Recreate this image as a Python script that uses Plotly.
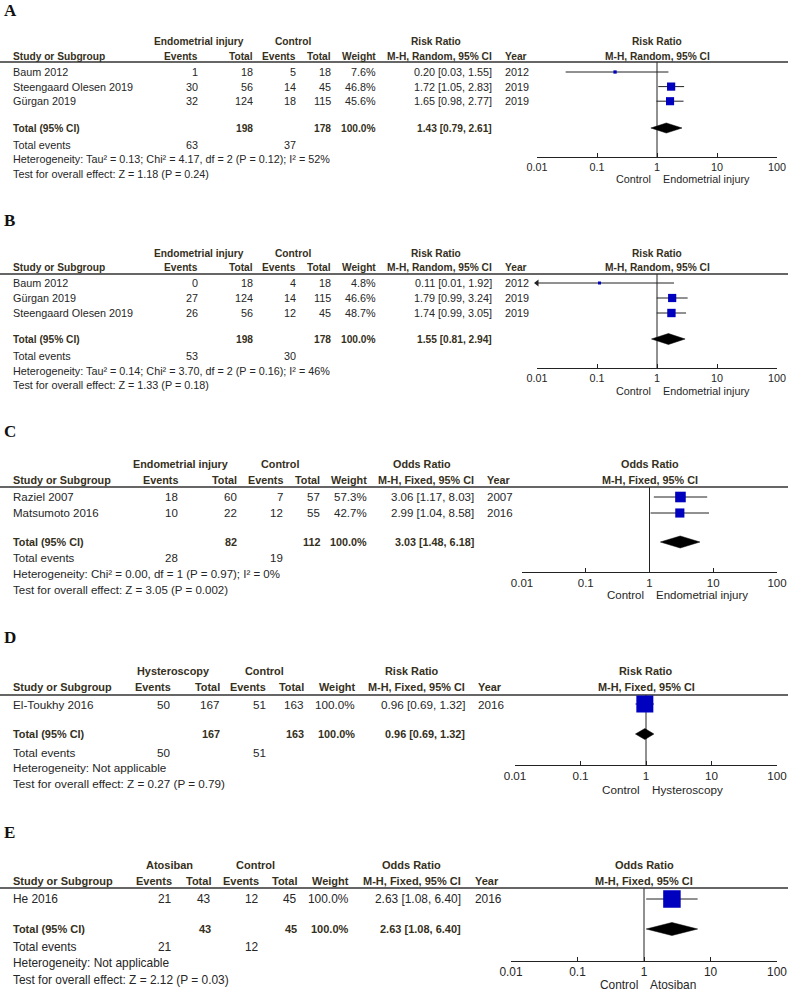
import math
import plotly.graph_objects as go

W, H = 788, 991

# ---------------- DATA ----------------
# Panel A
A_study = ["Baum 2012", "Steengaard Olesen 2019", "Gürgan 2019"]
A_ev1 = [1, 30, 32]
A_tot1 = [18, 56, 124]
A_ev2 = [5, 14, 18]
A_tot2 = [18, 45, 115]
A_weight = [7.6, 46.8, 45.6]
A_est = [0.20, 1.72, 1.65]
A_lo = [0.03, 1.05, 0.98]
A_hi = [1.55, 2.83, 2.77]
A_year = [2012, 2019, 2019]
A_sum_n = [198, 178]
A_sum_wt = 100.0
A_sum_ev = [63, 37]
A_sum_est = [1.43, 0.79, 2.61]
A_het = "Heterogeneity: Tau² = 0.13; Chi² = 4.17, df = 2 (P = 0.12); I² = 52%"
A_test = "Test for overall effect: Z = 1.18 (P = 0.24)"
A_labels = ["Endometrial injury", "Control", "Risk Ratio", "M-H, Random, 95% CI"]

# Panel B
B_study = ["Baum 2012", "Gürgan 2019", "Steengaard Olesen 2019"]
B_ev1 = [0, 27, 26]
B_tot1 = [18, 124, 56]
B_ev2 = [4, 14, 12]
B_tot2 = [18, 115, 45]
B_weight = [4.8, 46.6, 48.7]
B_est = [0.11, 1.79, 1.74]
B_lo = [0.01, 0.99, 0.99]
B_hi = [1.92, 3.24, 3.05]
B_year = [2012, 2019, 2019]
B_sum_n = [198, 178]
B_sum_wt = 100.0
B_sum_ev = [53, 30]
B_sum_est = [1.55, 0.81, 2.94]
B_het = "Heterogeneity: Tau² = 0.14; Chi² = 3.70, df = 2 (P = 0.16); I² = 46%"
B_test = "Test for overall effect: Z = 1.33 (P = 0.18)"
B_labels = ["Endometrial injury", "Control", "Risk Ratio", "M-H, Random, 95% CI"]

# Panel C
C_study = ["Raziel 2007", "Matsumoto 2016"]
C_ev1 = [18, 10]
C_tot1 = [60, 22]
C_ev2 = [7, 12]
C_tot2 = [57, 55]
C_weight = [57.3, 42.7]
C_est = [3.06, 2.99]
C_lo = [1.17, 1.04]
C_hi = [8.03, 8.58]
C_year = [2007, 2016]
C_sum_n = [82, 112]
C_sum_wt = 100.0
C_sum_ev = [28, 19]
C_sum_est = [3.03, 1.48, 6.18]
C_het = "Heterogeneity: Chi² = 0.00, df = 1 (P = 0.97); I² = 0%"
C_test = "Test for overall effect: Z = 3.05 (P = 0.002)"
C_labels = ["Endometrial injury", "Control", "Odds Ratio", "M-H, Fixed, 95% CI"]

# Panel D
D_study = ["El-Toukhy 2016"]
D_ev1 = [50]
D_tot1 = [167]
D_ev2 = [51]
D_tot2 = [163]
D_weight = [100.0]
D_est = [0.96]
D_lo = [0.69]
D_hi = [1.32]
D_year = [2016]
D_sum_n = [167, 163]
D_sum_wt = 100.0
D_sum_ev = [50, 51]
D_sum_est = [0.96, 0.69, 1.32]
D_het = "Heterogeneity: Not applicable"
D_test = "Test for overall effect: Z = 0.27 (P = 0.79)"
D_labels = ["Hysteroscopy", "Control", "Risk Ratio", "M-H, Fixed, 95% CI"]

# Panel E
E_study = ["He 2016"]
E_ev1 = [21]
E_tot1 = [43]
E_ev2 = [12]
E_tot2 = [45]
E_weight = [100.0]
E_est = [2.63]
E_lo = [1.08]
E_hi = [6.40]
E_year = [2016]
E_sum_n = [43, 45]
E_sum_wt = 100.0
E_sum_ev = [21, 12]
E_sum_est = [2.63, 1.08, 6.40]
E_het = "Heterogeneity: Not applicable"
E_test = "Test for overall effect: Z = 2.12 (P = 0.03)"
E_labels = ["Atosiban", "Control", "Odds Ratio", "M-H, Fixed, 95% CI"]

TICK_VALS = [0.01, 0.1, 1, 10, 100]
TICK_TEXT = ["0.01", "0.1", "1", "10", "100"]

# ---------------- STYLE (pixel layout) ----------------
STYLE = {
    "A": dict(letter=10, h1=42, h2=56, line=62, row0=72, rowh=14.6, total=128, tev=145, het=159, test=174,
              axis=157, side=179, x0=537, x1=777, fs=10.8, fsb=10.2, sqk=1.2, dh=5,
              name=12, ev1=199, tot1=254, ev2=297, tot2=332, wt=377, ci=493, year=504, g1=199, g2=293, eff=436),
    "B": dict(letter=220, h1=253, h2=267, line=274, row0=283, rowh=15, total=339, tev=356, het=371, test=385,
              axis=368, side=391, x0=537, x1=777, fs=10.8, fsb=10.2, sqk=1.2, dh=5.5,
              name=12, ev1=199, tot1=254, ev2=297, tot2=332, wt=377, ci=493, year=504, g1=199, g2=293, eff=436),
    "C": dict(letter=432, h1=464, h2=480, line=487, row0=497, rowh=16, total=542, tev=558, het=574, test=590,
              axis=572, side=595, x0=522, x1=777, fs=11.5, fsb=10.8, sqk=1.4, dh=6,
              name=12, ev1=179, tot1=238, ev2=284, tot2=321, wt=368, ci=475, year=486, g1=180, g2=280, eff=422),
    "D": dict(letter=637, h1=671, h2=687, line=695, row0=704, rowh=16, total=734, tev=752, het=767, test=783,
              axis=765, side=789, x0=515, x1=777, fs=11.7, fsb=10.9, sqk=1.7, dh=5.5,
              name=12, ev1=172, tot1=221, ev2=267, tot2=305, wt=356, ci=466, year=477, g1=173, g2=264, eff=412),
    "E": dict(letter=832, h1=865, h2=881, line=888, row0=899, rowh=16, total=929, tev=947, het=963, test=980,
              axis=961, side=985, x0=511, x1=777, fs=11.9, fsb=11.0, sqk=1.75, dh=6.5,
              name=12, ev1=173, tot1=212, ev2=260, tot2=298, wt=350, ci=462, year=474, g1=169, g2=256, eff=411),
}

panels = [
    ("A", A_study, A_ev1, A_tot1, A_ev2, A_tot2, A_weight, A_est, A_lo, A_hi, A_year, A_sum_n, A_sum_wt, A_sum_ev, A_sum_est, A_het, A_test, A_labels),
    ("B", B_study, B_ev1, B_tot1, B_ev2, B_tot2, B_weight, B_est, B_lo, B_hi, B_year, B_sum_n, B_sum_wt, B_sum_ev, B_sum_est, B_het, B_test, B_labels),
    ("C", C_study, C_ev1, C_tot1, C_ev2, C_tot2, C_weight, C_est, C_lo, C_hi, C_year, C_sum_n, C_sum_wt, C_sum_ev, C_sum_est, C_het, C_test, C_labels),
    ("D", D_study, D_ev1, D_tot1, D_ev2, D_tot2, D_weight, D_est, D_lo, D_hi, D_year, D_sum_n, D_sum_wt, D_sum_ev, D_sum_est, D_het, D_test, D_labels),
    ("E", E_study, E_ev1, E_tot1, E_ev2, E_tot2, E_weight, E_est, E_lo, E_hi, E_year, E_sum_n, E_sum_wt, E_sum_ev, E_sum_est, E_het, E_test, E_labels),
]

FONT = "Liberation Sans, Arial, sans-serif"
TXT = "#262626"
BOLD_TXT = "#35301c"
SQ = "#0000BF"

fig = go.Figure()
annotations = []
shapes = []
axes = {}


def ann(text, x, y, anchor, size, bold=False, xref="paper", xshift=0, family=FONT, color=None):
    if color is None:
        color = BOLD_TXT if bold else TXT
    annotations.append(dict(
        text=("<b>%s</b>" % text) if bold else text,
        x=(x / W) if xref == "paper" else x, y=1 - y / H,
        xref=xref, yref="paper", xanchor=anchor, yanchor="middle",
        showarrow=False, xshift=xshift, borderpad=0,
        font=dict(family=family, size=size, color=color)))


def ci_text(e, l, h):
    return "%.2f [%.2f, %.2f]" % (e, l, h)


for i, (key, study, ev1, tot1, ev2, tot2, wt, est, lo, hi, year, sum_n, sum_wt, sum_ev, sum_est, het, test, labels) in enumerate(panels, start=1):
    s = STYLE[key]
    xa = "x" if i == 1 else "x%d" % i
    ya = "y" if i == 1 else "y%d" % i
    axes["xaxis" if i == 1 else "xaxis%d" % i] = dict(
        domain=[s["x0"] / W, s["x1"] / W], type="log", range=[-2, 2], anchor=ya,
        tickmode="array", tickvals=TICK_VALS, ticktext=TICK_TEXT, automargin=False,
        showline=True, linecolor="#222", linewidth=1, ticks="inside", ticklen=4,
        tickcolor="#222", tickwidth=1, showgrid=False, zeroline=False,
        tickfont=dict(family=FONT, size=s["fs"], color=TXT), fixedrange=True)
    axes["yaxis" if i == 1 else "yaxis%d" % i] = dict(
        domain=[1 - s["axis"] / H, 1 - s["line"] / H], range=[s["axis"], s["line"]],
        visible=False, anchor=xa, fixedrange=True, automargin=False)

    n = len(study)
    rows = [s["row0"] + k * s["rowh"] for k in range(n)]

    # CI lines
    for k in range(n):
        fig.add_trace(go.Scatter(x=[max(lo[k], 0.01), min(hi[k], 100)], y=[rows[k], rows[k]], mode="lines",
                                 line=dict(color="#222", width=1), xaxis=xa, yaxis=ya,
                                 showlegend=False, hoverinfo="skip", cliponaxis=False))
        if lo[k] <= 0.01:
            fig.add_trace(go.Scatter(x=[0.01], y=[rows[k]], mode="markers",
                                     marker=dict(symbol="triangle-left", size=6, color="#222", opacity=1),
                                     xaxis=xa, yaxis=ya, showlegend=False, hoverinfo="skip", cliponaxis=False))
    # squares
    fig.add_trace(go.Scatter(x=est, y=rows, mode="markers",
                             marker=dict(symbol="square", color=SQ, opacity=1,
                                         size=[max(3, s["sqk"] * math.sqrt(w)) for w in wt],
                                         line=dict(width=0)),
                             xaxis=xa, yaxis=ya, showlegend=False, cliponaxis=False))
    # diamond
    t = s["total"]
    d = s["dh"]
    fig.add_trace(go.Scatter(x=[sum_est[1], sum_est[0], sum_est[2], sum_est[0], sum_est[1]],
                             y=[t, t - d, t, t + d, t], mode="lines", fill="toself",
                             fillcolor="#000", line=dict(color="#000", width=0.5),
                             xaxis=xa, yaxis=ya, showlegend=False, hoverinfo="skip", cliponaxis=False))
    # vertical line at 1
    shapes.append(dict(type="line", xref=xa, yref="%s domain" % ya, x0=1, x1=1, y0=0, y1=1,
                       line=dict(color="#222", width=1), layer="below"))
    # header underline
    shapes.append(dict(type="line", xref="paper", yref="paper", x0=0, x1=1,
                       y0=1 - s["line"] / H, y1=1 - s["line"] / H,
                       line=dict(color="#333", width=1.5), layer="below"))

    fs, fsb = s["fs"], s["fsb"]
    # panel letter
    ann(key, 3, s["letter"], "left", 17, bold=True, family="Liberation Serif, Times New Roman, serif", color="#111")
    # headers
    ann(labels[0], s["g1"], s["h1"], "center", fsb, True)
    ann(labels[1], s["g2"], s["h1"], "center", fsb, True)
    ann(labels[2], s["eff"], s["h1"], "center", fsb, True)
    ann("Study or Subgroup", s["name"], s["h2"], "left", fsb, True)
    ann("Events", s["ev1"], s["h2"], "right", fsb, True)
    ann("Total", s["tot1"], s["h2"], "right", fsb, True)
    ann("Events", s["ev2"], s["h2"], "right", fsb, True)
    ann("Total", s["tot2"], s["h2"], "right", fsb, True)
    ann("Weight", s["wt"], s["h2"], "right", fsb, True)
    ann(labels[3], s["ci"], s["h2"], "right", fsb, True)
    ann("Year", s["year"], s["h2"], "left", fsb, True)
    # forest header (annotation x on a log axis is given in log10 units: 0 -> ratio 1)
    ann(labels[2], 0, s["h1"], "center", fsb, True, xref=xa)
    ann(labels[3], 0, s["h2"], "center", fsb, True, xref=xa)
    # study rows
    for k in range(n):
        y = rows[k]
        ann(study[k], s["name"], y, "left", fs)
        ann(str(ev1[k]), s["ev1"], y, "right", fs)
        ann(str(tot1[k]), s["tot1"], y, "right", fs)
        ann(str(ev2[k]), s["ev2"], y, "right", fs)
        ann(str(tot2[k]), s["tot2"], y, "right", fs)
        ann("%.1f%%" % wt[k], s["wt"], y, "right", fs)
        ann(ci_text(est[k], lo[k], hi[k]), s["ci"], y, "right", fs)
        ann(str(year[k]), s["year"], y, "left", fs)
    # total row
    ann("Total (95% CI)", s["name"], t, "left", fsb, True)
    ann(str(sum_n[0]), s["tot1"], t, "right", fsb, True)
    ann(str(sum_n[1]), s["tot2"], t, "right", fsb, True)
    ann("%.1f%%" % sum_wt, s["wt"], t, "right", fsb, True)
    ann(ci_text(*sum_est), s["ci"], t, "right", fsb, True)
    # total events etc.
    ann("Total events", s["name"], s["tev"], "left", fs)
    ann(str(sum_ev[0]), s["ev1"], s["tev"], "right", fs)
    ann(str(sum_ev[1]), s["ev2"], s["tev"], "right", fs)
    ann(het, s["name"], s["het"], "left", fs)
    ann(test, s["name"], s["test"], "left", fs)
    # favours labels
    ann("Control", 0, s["side"], "right", fs, xref=xa, xshift=-5)
    ann(labels[0], 0, s["side"], "left", fs, xref=xa, xshift=5)

fig.update_layout(width=W, height=H, margin=dict(l=0, r=0, t=0, b=0, autoexpand=False),
                  paper_bgcolor="white", plot_bgcolor="rgba(0,0,0,0)",
                  showlegend=False, annotations=annotations, shapes=shapes, **axes)

fig.write_html("out.html", post_script="document.body.style.margin='0';", config={"displayModeBar": False})
